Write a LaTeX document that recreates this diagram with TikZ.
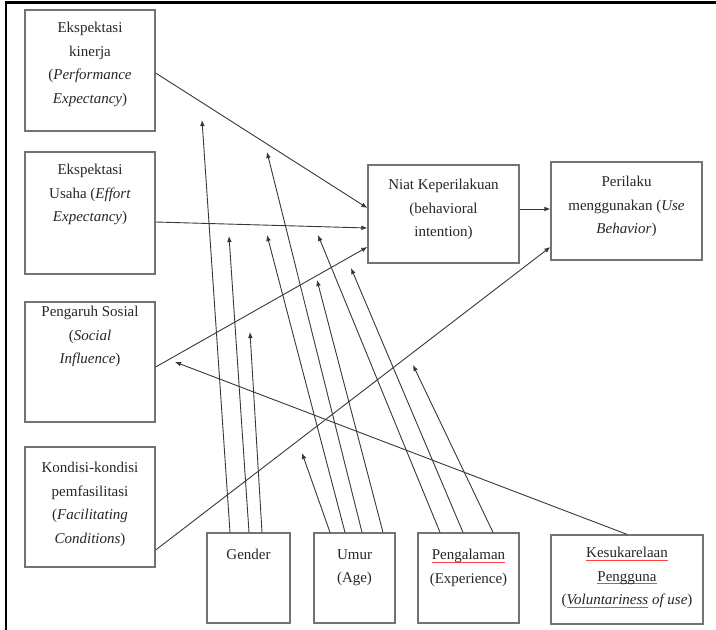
\documentclass[tikz,border=0pt]{standalone}
\usepackage{fontspec}
\setmainfont{Liberation Serif}
\usetikzlibrary{arrows.meta,calc}
\newcommand\redul[1]{\setbox0=\hbox{#1}\rlap{\textcolor{red!75}{\rule[-2.6pt]{\wd0}{0.7pt}}}\box0\relax}
\begin{document}
\begin{tikzpicture}[x=1pt,y=-1pt,
  box/.style={draw=black!55, line width=1.3pt, inner sep=0pt, rectangle},
  txt/.style={align=center, inner sep=0pt, anchor=north, text=black!85,
              font=\fontsize{15}{23.5}\selectfont},
  conn/.style={draw=black!78, line width=0.9pt},
  arr/.style={conn, -{Latex[length=6pt,width=4.8pt]}},
  frame/.style={line width=2.6pt, black}
]
\useasboundingbox (0,0) rectangle (716,630);
% frame
\draw[frame] (6,630) -- (6,2.5) -- (716,2.5);

% boxes
\node[box, minimum width=130pt, minimum height=121pt] (pe) at (90,70.5) {};
\node[box, minimum width=130pt, minimum height=122pt] (ee) at (90,213) {};
\node[box, minimum width=130pt, minimum height=120pt] (si) at (90,362) {};
\node[box, minimum width=130pt, minimum height=120pt] (fc) at (90,507) {};
\node[box, minimum width=151pt, minimum height=98pt] (niat) at (443.5,214) {};
\node[box, minimum width=151pt, minimum height=98pt] (use) at (626.5,211) {};
\node[box, minimum width=83pt, minimum height=90pt] (gender) at (248.5,578) {};
\node[box, minimum width=81pt, minimum height=90pt] (umur) at (354.5,578) {};
\node[box, minimum width=101pt, minimum height=90pt] (exper) at (468.5,578) {};
\node[box, minimum width=152pt, minimum height=89pt] (vol) at (627,579.5) {};

% texts
\node[txt] (pet) at (90,22) {Ekspektasi\\kinerja\\(\textit{Performance}\\\textit{Expectancy})};
\node[txt] (eet) at (90,164) {Ekspektasi\\Usaha (\textit{Effort}\\\textit{Expectancy})};
\node[txt] (sit) at (90,306) {Pengaruh Sosial\\(\textit{Social}\\\textit{Influence})};
\node[txt] (fct) at (90,462) {Kondisi-kondisi\\pemfasilitasi\\(\textit{Facilitating}\\\textit{Conditions})};
\node[txt] (niatt) at (443.5,179) {Niat Keperilakuan\\(behavioral\\intention)};
\node[txt] (uset) at (626.5,176) {Perilaku\\menggunakan (\textit{Use}\\\textit{Behavior})};
\node[txt] (gendert) at (248.5,549) {Gender};
\node[txt] (umurt) at (354.5,549) {Umur\\(Age)};
\node[txt] (expert) at (468.5,549) {\redul{Pengalaman}\\(Experience)};
\node[txt] (volt) at (627,547) {\redul{Kesukarelaan}\\\redul{Pengguna}\\(\redul{\textit{Voluntariness}} \textit{of use})};

% tips of moderating arrows
\coordinate (g1) at (202,120);
\coordinate (g2) at (229,236);
\coordinate (g3) at (250,332);
\coordinate (u1) at (302,453);
\coordinate (u2) at (267,235);
\coordinate (u3) at (267,152);
\coordinate (u4) at (317,280);
\coordinate (e1) at (318,235);
\coordinate (e2) at (351,268);
\coordinate (e3) at (413,365);
\coordinate (v1) at (175,362);

% main paths
\draw[arr] ([yshift=-2.5pt]pe.east) -- ([yshift=6pt]niat.west);
\draw[arr] ([yshift=-9pt]ee.east) -- ([yshift=-14pt]niat.west);
\draw[arr] ([yshift=-5pt]si.east) -- ([yshift=-33pt]niat.west);
\draw[arr] ([yshift=-43pt]fc.east) -- ([yshift=-36pt]use.west);
\draw[arr] ([yshift=5pt]niat.east) -- ([yshift=2pt]use.west);

% moderators
\draw[arr] ([xshift=-18.5pt]gender.north) -- (g1);
\draw[arr] ([xshift=0.5pt]gender.north) -- (g2);
\draw[arr] ([xshift=13.5pt]gender.north) -- (g3);
\draw[arr] ([xshift=-24.5pt]umur.north) -- (u1);
\draw[arr] ([xshift=-9.5pt]umur.north) -- (u2);
\draw[arr] ([xshift=7.5pt]umur.north) -- (u3);
\draw[arr] ([xshift=28.5pt]umur.north) -- (u4);
\draw[arr] ([xshift=-28.5pt]exper.north) -- (e1);
\draw[arr] ([xshift=-5.5pt]exper.north) -- (e2);
\draw[arr] ([xshift=24.5pt]exper.north) -- (e3);
\draw[arr] (vol.north) -- (v1);
\end{tikzpicture}
\end{document}
